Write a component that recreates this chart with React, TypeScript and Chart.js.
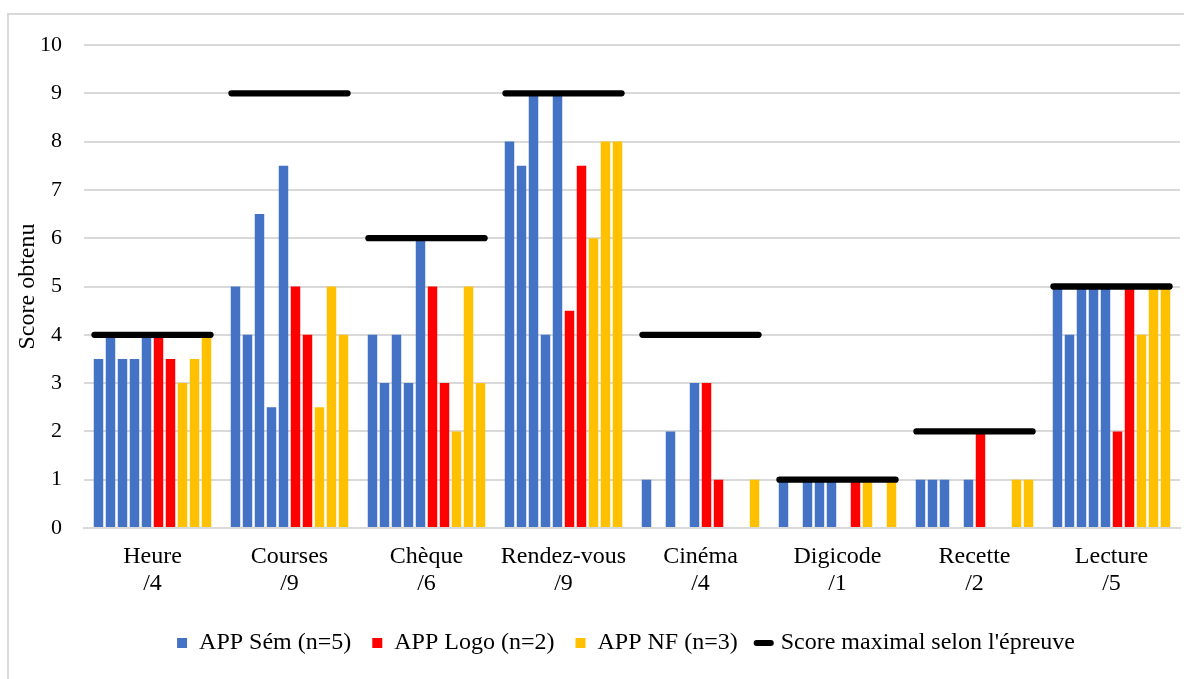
import { useEffect, useRef } from 'react';
import { Chart, registerables } from 'chart.js';

Chart.register(...registerables);

// ---- Data ----
const categoryNames = ['Heure', 'Courses', 'Chèque', 'Rendez-vous', 'Cinéma', 'Digicode', 'Recette', 'Lecture'];
const maxScores = [4, 9, 6, 9, 4, 1, 2, 5];

// APP Sém (n=5): one array per participant
const semScores = [
  [3.5, 5, 4, 8, 1, 1, 1, 5],
  [4, 4, 3, 7.5, 0, 0, 1, 4],
  [3.5, 6.5, 4, 9, 2, 1, 1, 5],
  [3.5, 2.5, 3, 4, 0, 1, 0, 5],
  [4, 7.5, 6, 9, 3, 1, 1, 5],
];
// APP Logo (n=2)
const logoScores = [
  [4, 5, 5, 4.5, 3, 0, 2, 2],
  [3.5, 4, 3, 7.5, 1, 1, 0, 5],
];
// APP NF (n=3)
const nfScores = [
  [3, 2.5, 2, 6, 0, 1, 0, 4],
  [3.5, 5, 5, 8, 0, 0, 1, 5],
  [4, 4, 3, 8, 1, 1, 1, 5],
];

const yMin = 0;
const yMax = 10;
const yStep = 1;

const semLabel = 'APP Sém (n=5)';
const logoLabel = 'APP Logo (n=2)';
const nfLabel = 'APP NF (n=3)';
const maxLabel = "Score maximal selon l'épreuve";
const yTitle = 'Score obtenu';

// ---- Styles ----
const SEM_COLOR = '#4472C4';
const LOGO_COLOR = '#FF0000';
const NF_COLOR = '#FFC000';
const MAX_COLOR = '#000000';
const FONT_FAMILY = "'Liberation Serif', 'Times New Roman', serif";
const LINE_HALF = 0.065;
const LEGEND_SHIFT = 32;

export default function App() {
  const canvasRef = useRef<HTMLCanvasElement | null>(null);

  useEffect(() => {
    const canvas = canvasRef.current;
    if (!canvas) return;

    const labels = categoryNames.map((n, i) => [n, '/' + maxScores[i]]);

    const mk = (arr: number[][], color: string, name: string) =>
      arr.map((d, i) => ({
        type: 'bar' as const,
        label: name + ' #' + (i + 1),
        data: d,
        backgroundColor: color,
        borderWidth: 0,
        order: 1,
        categoryPercentage: 0.876,
        barPercentage: 0.79,
      }));

    const datasets: any[] = [
      ...mk(semScores, SEM_COLOR, semLabel),
      ...mk(logoScores, LOGO_COLOR, logoLabel),
      ...mk(nfScores, NF_COLOR, nfLabel),
      {
        type: 'bar',
        label: maxLabel,
        data: maxScores.map((m) => [m - LINE_HALF, m + LINE_HALF]),
        backgroundColor: MAX_COLOR,
        borderWidth: 0,
        borderRadius: 3.5,
        borderSkipped: false,
        grouped: false,
        order: 0,
        categoryPercentage: 0.876,
        barPercentage: 1.02,
      },
    ];

    const tickFont = { family: FONT_FAMILY, size: 22 };
    const xFont = { family: FONT_FAMILY, size: 24, lineHeight: 1.1 };
    const textFont = { family: FONT_FAMILY, size: 24 };

    const legendItems = [
      { text: semLabel, fillStyle: SEM_COLOR, strokeStyle: SEM_COLOR, lineWidth: 0, pointStyle: 'rect', hidden: false, datasetIndex: 0, fontColor: '#000' },
      { text: logoLabel, fillStyle: LOGO_COLOR, strokeStyle: LOGO_COLOR, lineWidth: 0, pointStyle: 'rect', hidden: false, datasetIndex: 5, fontColor: '#000' },
      { text: nfLabel, fillStyle: NF_COLOR, strokeStyle: NF_COLOR, lineWidth: 0, pointStyle: 'rect', hidden: false, datasetIndex: 7, fontColor: '#000' },
      { text: maxLabel, fillStyle: MAX_COLOR, strokeStyle: MAX_COLOR, lineWidth: 6, lineCap: 'round', pointStyle: 'line', hidden: false, datasetIndex: 10, fontColor: '#000' },
    ];

    const legendShift = {
      id: 'legendShift',
      afterLayout(chart: any) {
        const l = chart.legend;
        if (l) {
          l.left += LEGEND_SHIFT;
          l.right += LEGEND_SHIFT;
        }
      },
    };

    const chart = new Chart(canvas, {
      type: 'bar',
      data: { labels, datasets },
      plugins: [legendShift],
      options: {
        responsive: false,
        animation: false,
        layout: { padding: { left: 8, right: 4, top: 45, bottom: 14 } },
        plugins: {
          tooltip: { enabled: false },
          legend: {
            position: 'bottom',
            onClick: () => {},
            labels: {
              usePointStyle: true,
              boxWidth: 10,
              boxHeight: 10,
              padding: 21,
              color: '#000',
              font: textFont,
              generateLabels: () => legendItems as any,
            },
          },
        },
        scales: {
          x: {
            grid: { display: false },
            border: { display: true, color: '#d9d9d9', width: 2 },
            ticks: { color: '#000', font: xFont, padding: 8, maxRotation: 0, autoSkip: false },
            afterFit: (s: any) => {
              s.height = 82;
            },
          },
          y: {
            min: yMin,
            max: yMax,
            ticks: { stepSize: yStep, padding: 22, color: '#000', font: tickFont },
            grid: { color: '#d9d9d9', lineWidth: 2, drawTicks: false },
            border: { display: false },
            title: { display: true, text: yTitle, color: '#000', font: textFont, padding: { top: 5, bottom: 0 } },
            afterFit: (s: any) => {
              s.width = 76;
            },
          },
        },
      } as any,
    });

    return () => chart.destroy();
  }, []);

  return (
    <div style={{ position: 'absolute', left: 0, top: 0, width: 1184, height: 679, background: '#fff', overflow: 'hidden' }}>
      <div
        style={{
          position: 'absolute',
          left: 7,
          top: 13,
          width: 1200,
          height: 700,
          borderLeft: '2px solid #d9d9d9',
          borderTop: '2px solid #d9d9d9',
        }}
      />
      <canvas
        ref={canvasRef}
        width={1184}
        height={679}
        style={{ position: 'absolute', left: 0, top: 0, width: 1184, height: 679 }}
      />
    </div>
  );
}
